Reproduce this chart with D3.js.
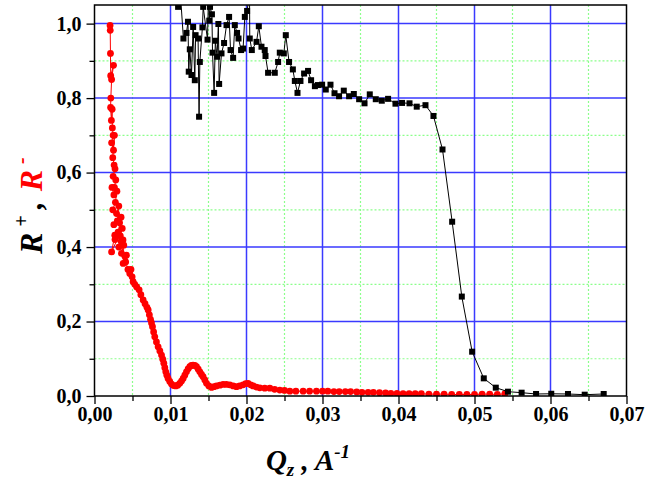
<!DOCTYPE html>
<html>
<head>
<meta charset="utf-8">
<script src="https://cdn.jsdelivr.net/npm/d3@7"></script>
<style>
    body { margin: 0; background: #fff; }
    svg { display: block; }
    .tick text { font-family: "Liberation Serif", "Times New Roman", serif; font-weight: bold; font-size: 20px; fill: #000; }
    .axis-title { font-family: "Liberation Serif", "Times New Roman", serif; font-weight: bold; font-style: italic; }
</style>
</head>
<body>
<svg id="chart"></svg>
<script>
// R+ (black squares): Qz, reflectivity
const rPlusQ = [0.0108, 0.0110, 0.0113, 0.0117, 0.0121, 0.0123, 0.0124, 0.01254, 0.01276, 0.01298,
    0.0132, 0.0133, 0.01363, 0.01376, 0.01386, 0.0142, 0.0143, 0.01487, 0.0150, 0.0151,
    0.0152, 0.01545, 0.01553, 0.01574, 0.0159, 0.01613, 0.0163, 0.0164, 0.01671, 0.01705,
    0.01737, 0.01771, 0.0179, 0.01824, 0.01846, 0.01876, 0.01895, 0.01929, 0.01955, 0.01978,
    0.02008, 0.0204, 0.02043, 0.0207, 0.02132, 0.02162, 0.02197, 0.0224, 0.0225, 0.02284,
    0.02372, 0.02416, 0.02438, 0.02491, 0.02517, 0.0256, 0.0261, 0.02636, 0.02671, 0.0271,
    0.02758, 0.0281, 0.0285, 0.0290, 0.0294, 0.02995, 0.03043, 0.03105, 0.03158, 0.03218,
    0.0328, 0.0335, 0.03412, 0.03482, 0.03553, 0.03622, 0.03701, 0.0378, 0.03863, 0.0396,
    0.04047, 0.04145, 0.0424, 0.04355, 0.0446, 0.04579, 0.04706, 0.04833, 0.04969, 0.05122,
    0.0528, 0.0544, 0.0562, 0.0581, 0.0601, 0.0623, 0.0645, 0.0670]
const rPlusR = [1.10, 1.045, 1.08, 0.96, 0.975, 1.005, 0.871, 0.931, 0.862, 0.991,
    0.848, 0.969, 0.960, 0.750, 0.897, 0.990, 1.045, 0.957, 1.08, 1.008,
    1.045, 1.025, 0.922, 0.814, 0.954, 0.911, 0.999, 0.838, 0.920, 0.948,
    0.996, 1.018, 0.929, 0.908, 0.996, 0.975, 0.960, 0.929, 0.933, 1.018,
    1.034, 1.08, 0.960, 0.929, 0.951, 0.993, 0.938, 0.929, 0.913, 0.868,
    0.868, 0.897, 0.922, 0.920, 0.969, 0.897, 0.877, 0.846, 0.814, 0.846,
    0.866, 0.873, 0.848, 0.832, 0.835, 0.836, 0.823, 0.836, 0.813, 0.805,
    0.820, 0.805, 0.811, 0.797, 0.786, 0.810, 0.797, 0.793, 0.798, 0.785,
    0.787, 0.786, 0.777, 0.781, 0.752, 0.662, 0.468, 0.267, 0.119, 0.0474,
    0.0224, 0.0116, 0.0089, 0.0054, 0.006, 0.0054, 0.0035, 0.0054]

// R- (red circles): Qz, reflectivity
const rMinusQ = [0.00205, 0.00207, 0.00210, 0.00213, 0.00250, 0.00225, 0.00215, 0.00212, 0.00222, 0.00232,
    0.00235, 0.00245, 0.00225, 0.00250, 0.00262, 0.00240, 0.00258, 0.00270, 0.00245, 0.00280,
    0.00262, 0.00230, 0.00255, 0.00295, 0.00275, 0.00240, 0.00290, 0.00320, 0.00300, 0.00255,
    0.00330, 0.00350, 0.00310, 0.00270, 0.00340, 0.00365, 0.00225, 0.00267, 0.00350, 0.00320,
    0.00375, 0.00355, 0.00385, 0.00377, 0.00400, 0.00420, 0.00410, 0.00440, 0.00464, 0.00480,
    0.00495, 0.00508, 0.00530, 0.00555, 0.00587, 0.00610, 0.00640, 0.00665, 0.00690, 0.00706,
    0.00722, 0.00737, 0.00750, 0.00763, 0.00778, 0.00793, 0.00815, 0.00837, 0.00860, 0.00882,
    0.00898, 0.00912, 0.00925, 0.00938, 0.00952, 0.00968, 0.00990, 0.01013, 0.01040, 0.01070,
    0.01095, 0.01122, 0.01145, 0.01166, 0.01188, 0.01210, 0.01232, 0.01254, 0.01275, 0.01297,
    0.01320, 0.01342, 0.01365, 0.01386, 0.01408, 0.01429, 0.01452, 0.01474, 0.01505, 0.01540,
    0.01572, 0.01605, 0.01650, 0.01692, 0.01735, 0.01780, 0.01825, 0.01868, 0.01910, 0.01955,
    0.01990, 0.02021, 0.02055, 0.02087, 0.02130, 0.02175, 0.02240, 0.02307, 0.02370, 0.02438,
    0.02500, 0.02570, 0.02650, 0.02745, 0.02830, 0.02920, 0.0300, 0.0307, 0.0315, 0.0322,
    0.0330, 0.0337, 0.0345, 0.0352, 0.0360, 0.0367, 0.0375, 0.0383, 0.0390, 0.0398,
    0.0406, 0.0414, 0.0422, 0.0430, 0.0440, 0.0450, 0.0460, 0.0470, 0.0480, 0.0490,
    0.0500, 0.0510, 0.0520, 0.0530, 0.0540]
const rMinusR = [0.995, 0.982, 0.920, 0.860, 0.888, 0.850, 0.800, 0.775, 0.740, 0.770,
    0.720, 0.700, 0.680, 0.660, 0.700, 0.640, 0.620, 0.610, 0.590, 0.580,
    0.560, 0.560, 0.540, 0.550, 0.520, 0.500, 0.490, 0.510, 0.470, 0.460,
    0.465, 0.480, 0.440, 0.420, 0.430, 0.450, 0.387, 0.432, 0.415, 0.400,
    0.419, 0.383, 0.405, 0.356, 0.375, 0.378, 0.360, 0.340, 0.329, 0.340,
    0.320, 0.307, 0.300, 0.293, 0.285, 0.272, 0.258, 0.248, 0.238, 0.231,
    0.218, 0.206, 0.196, 0.186, 0.172, 0.159, 0.145, 0.132, 0.121, 0.110,
    0.099, 0.088, 0.076, 0.065, 0.056, 0.047, 0.039, 0.032, 0.028, 0.027,
    0.029, 0.034, 0.040, 0.047, 0.056, 0.065, 0.073, 0.079, 0.082, 0.083,
    0.082, 0.079, 0.072, 0.065, 0.058, 0.052, 0.043, 0.034, 0.027, 0.023,
    0.025, 0.027, 0.029, 0.031, 0.031, 0.030, 0.027, 0.025, 0.027, 0.030,
    0.033, 0.034, 0.030, 0.027, 0.024, 0.022, 0.021, 0.021, 0.018, 0.016,
    0.015, 0.013, 0.013, 0.013, 0.013, 0.013, 0.013, 0.013, 0.012, 0.012,
    0.012, 0.012, 0.011, 0.010, 0.010, 0.010, 0.009, 0.008, 0.007, 0.007,
    0.006, 0.006, 0.006, 0.006, 0.005, 0.005, 0.005, 0.004, 0.004, 0.004,
    0.004, 0.005, 0.005, 0.004, 0.006]

const xMajorTicks = [0, 0.01, 0.02, 0.03, 0.04, 0.05, 0.06, 0.07]
const xMinorTicks = [0.005, 0.015, 0.025, 0.035, 0.045, 0.055, 0.065]
const yMajorTicks = [0, 0.2, 0.4, 0.6, 0.8, 1.0]
const yMinorTicks = [0.1, 0.3, 0.5, 0.7, 0.9]

const config = {
    width: 663,
    height: 482,
    margin: {top: 5, right: 36.5, bottom: 86, left: 94.5},
}

const innerW = config.width - config.margin.left - config.margin.right
const innerH = config.height - config.margin.top - config.margin.bottom

const svg = d3.select('#chart')
    .attr('width', config.width)
    .attr('height', config.height)

const g = svg.append('g')
    .attr('transform', `translate(${config.margin.left}, ${config.margin.top})`)

const xScale = d3.scaleLinear().domain([0, 0.07]).range([0, innerW])
const yScale = d3.scaleLinear().domain([0, 1.05]).range([innerH, 0])

const comma = (fmt) => (d) => d3.format(fmt)(d).replace('.', ',')

// grid: dotted green minor, solid blue major
g.selectAll('.grid-minor-x')
    .data(xMinorTicks)
    .join('line')
    .attr('x1', d => xScale(d)).attr('x2', d => xScale(d))
    .attr('y1', 0).attr('y2', innerH)
    .attr('stroke', '#8cff8c').attr('stroke-width', 1.2).attr('stroke-dasharray', '2,2')
g.selectAll('.grid-minor-y')
    .data(yMinorTicks)
    .join('line')
    .attr('x1', 0).attr('x2', innerW)
    .attr('y1', d => yScale(d)).attr('y2', d => yScale(d))
    .attr('stroke', '#8cff8c').attr('stroke-width', 1.2).attr('stroke-dasharray', '2,2')
g.selectAll('.grid-major-x')
    .data(xMajorTicks.slice(1, -1))
    .join('line')
    .attr('x1', d => xScale(d)).attr('x2', d => xScale(d))
    .attr('y1', 0).attr('y2', innerH)
    .attr('stroke', '#3a3aff').attr('stroke-width', 1.5)
g.selectAll('.grid-major-y')
    .data(yMajorTicks.slice(1))
    .join('line')
    .attr('x1', 0).attr('x2', innerW)
    .attr('y1', d => yScale(d)).attr('y2', d => yScale(d))
    .attr('stroke', '#3a3aff').attr('stroke-width', 1.5)

// axes
g.append('g')
    .attr('transform', `translate(0, ${innerH})`)
    .call(d3.axisBottom(xScale).tickValues(xMajorTicks).tickFormat(comma('.2f')).tickSize(8).tickPadding(3).tickSizeOuter(0))
g.append('g')
    .attr('transform', `translate(0, ${innerH})`)
    .call(d3.axisBottom(xScale).tickValues(xMinorTicks).tickFormat('').tickSize(5).tickSizeOuter(0))

g.append('g')
    .call(d3.axisLeft(yScale).tickValues(yMajorTicks).tickFormat(comma('.1f')).tickSize(8).tickPadding(5).tickSizeOuter(0))
g.append('g')
    .call(d3.axisLeft(yScale).tickValues(yMinorTicks).tickFormat('').tickSize(5).tickSizeOuter(0))

g.selectAll('.domain').remove()
g.selectAll('.tick line').attr('stroke', '#000').attr('stroke-width', 1.3)

// clip for data
svg.append('defs').append('clipPath').attr('id', 'plot-clip')
    .append('rect').attr('width', innerW).attr('height', innerH)

const plot = g.append('g').attr('clip-path', 'url(#plot-clip)')

const rMinus = rMinusQ.map((q, i) => ({q: q, r: rMinusR[i]}))
const rPlus = rPlusQ.map((q, i) => ({q: q, r: rPlusR[i]}))

const line = d3.line().x(d => xScale(d.q)).y(d => yScale(d.r))

// R- red
plot.append('path')
    .datum(rMinus)
    .attr('d', line)
    .attr('fill', 'none')
    .attr('stroke', '#ff0000')
    .attr('stroke-width', 1)
plot.selectAll('.pt-minus')
    .data(rMinus)
    .join('circle')
    .attr('class', 'pt-minus')
    .attr('cx', d => xScale(d.q))
    .attr('cy', d => yScale(d.r))
    .attr('r', 3.4)
    .attr('fill', '#ff0000')

// R+ black
plot.append('path')
    .datum(rPlus)
    .attr('d', line)
    .attr('fill', 'none')
    .attr('stroke', '#000')
    .attr('stroke-width', 1)
plot.selectAll('.pt-plus')
    .data(rPlus)
    .join('rect')
    .attr('class', 'pt-plus')
    .attr('x', d => xScale(d.q) - 3)
    .attr('y', d => yScale(d.r) - 3)
    .attr('width', 6)
    .attr('height', 6)
    .attr('fill', '#000')

// frame
g.append('rect')
    .attr('width', innerW)
    .attr('height', innerH)
    .attr('fill', 'none')
    .attr('stroke', '#000')
    .attr('stroke-width', 1.5)

// axis titles
const xTitle = svg.append('text')
    .attr('class', 'axis-title')
    .attr('x', 308)
    .attr('y', 470)
    .attr('text-anchor', 'middle')
    .style('font-size', '29px')
xTitle.append('tspan').text('Q')
xTitle.append('tspan').attr('dy', 6).style('font-size', '19px').text('z')
xTitle.append('tspan').attr('dy', -6).text(' , A')
xTitle.append('tspan').attr('dy', -12).style('font-size', '19px').text('-1')

// rotated title reads bottom to top, starting at the black R
const yTitle = svg.append('text')
    .attr('class', 'axis-title')
    .attr('transform', 'translate(42, 254) rotate(-90)')
    .attr('text-anchor', 'start')
    .style('font-size', '32px')
yTitle.append('tspan').attr('fill', '#000').text('R')
yTitle.append('tspan').attr('fill', '#000').attr('dx', 6).attr('dy', -14).style('font-size', '20px').text('+')
yTitle.append('tspan').attr('fill', '#000').attr('dx', 6).attr('dy', 14).text(',')
yTitle.append('tspan').attr('fill', '#ff0000').attr('dx', 10).text('R')
yTitle.append('tspan').attr('fill', '#ff0000').attr('dx', 6).attr('dy', -14).style('font-size', '20px').text('-')
</script>
</body>
</html>
